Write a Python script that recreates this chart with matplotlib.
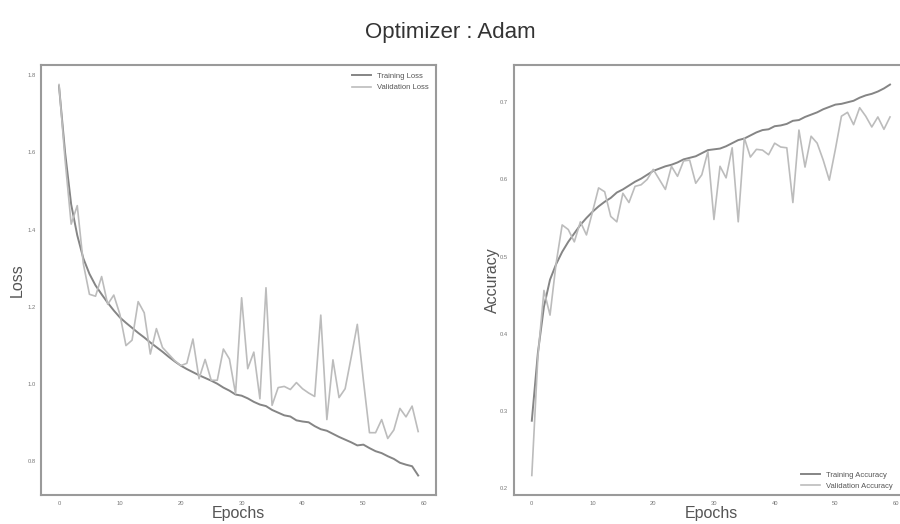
import matplotlib
matplotlib.use("Agg")
import matplotlib.pyplot as plt
import numpy as np

plt.rcParams['font.family'] = ['Liberation Sans', 'DejaVu Sans']

epochs = np.arange(60)

train_loss = [1.772, 1.600, 1.465, 1.385, 1.325, 1.285, 1.255, 1.232, 1.210, 1.190,
              1.172, 1.158, 1.145, 1.132, 1.120, 1.107, 1.095, 1.083, 1.070, 1.058,
              1.047, 1.038, 1.030, 1.022, 1.015, 1.008, 1.000, 0.990, 0.982, 0.972,
              0.969, 0.962, 0.953, 0.946, 0.942, 0.932, 0.925, 0.918, 0.915, 0.905,
              0.902, 0.900, 0.890, 0.882, 0.878, 0.870, 0.862, 0.855, 0.848, 0.840,
              0.842, 0.833, 0.825, 0.820, 0.812, 0.805, 0.795, 0.790, 0.786, 0.762]
val_loss = [1.776, 1.580, 1.414, 1.462, 1.311, 1.232, 1.227, 1.278, 1.206, 1.230,
            1.180, 1.099, 1.113, 1.213, 1.184, 1.077, 1.143, 1.094, 1.077, 1.060,
            1.047, 1.053, 1.116, 1.013, 1.063, 1.009, 1.009, 1.090, 1.064, 0.974,
            1.223, 1.039, 1.082, 0.961, 1.249, 0.944, 0.990, 0.993, 0.985, 1.003,
            0.987, 0.976, 0.967, 1.178, 0.907, 1.062, 0.964, 0.987, 1.069, 1.154,
            1.009, 0.873, 0.873, 0.907, 0.858, 0.880, 0.936, 0.914, 0.942, 0.876]

train_acc = [0.287, 0.375, 0.435, 0.470, 0.490, 0.506, 0.519, 0.530, 0.541, 0.550,
             0.558, 0.565, 0.571, 0.576, 0.583, 0.587, 0.592, 0.597, 0.601, 0.606,
             0.611, 0.614, 0.617, 0.619, 0.622, 0.626, 0.628, 0.630, 0.634, 0.638,
             0.639, 0.640, 0.643, 0.647, 0.651, 0.653, 0.657, 0.661, 0.664, 0.665,
             0.669, 0.670, 0.672, 0.676, 0.677, 0.681, 0.684, 0.687, 0.691, 0.694,
             0.697, 0.698, 0.700, 0.702, 0.706, 0.709, 0.711, 0.714, 0.718, 0.723]
val_acc = [0.216, 0.370, 0.456, 0.424, 0.491, 0.541, 0.535, 0.519, 0.545, 0.528,
           0.558, 0.589, 0.584, 0.552, 0.545, 0.582, 0.570, 0.591, 0.593, 0.600,
           0.613, 0.600, 0.587, 0.617, 0.604, 0.624, 0.625, 0.595, 0.606, 0.636,
           0.548, 0.617, 0.602, 0.641, 0.545, 0.654, 0.629, 0.639, 0.638, 0.632,
           0.647, 0.642, 0.641, 0.570, 0.664, 0.616, 0.656, 0.647, 0.625, 0.599,
           0.639, 0.682, 0.687, 0.671, 0.693, 0.682, 0.668, 0.681, 0.665, 0.681]

train_col = '#858585'
val_col = '#bcbcbc'
frame_col = '#9a9a9a'
text_col = '#555555'

fig = plt.figure(figsize=(9, 5.24), dpi=100)
fig.suptitle('Optimizer : Adam', fontsize=16, color='#333333', y=0.958)

ax1 = fig.add_axes([0.0456, 0.0553, 0.439, 0.8206])
ax2 = fig.add_axes([0.571, 0.0553, 0.4378, 0.8206])

ax1.plot(epochs, train_loss, color=train_col, lw=1.4, label='Training Loss')
ax1.plot(epochs, val_loss, color=val_col, lw=1.2, label='Validation Loss')
ax1.set_ylabel('Loss', fontsize=11.5, color=text_col, labelpad=1.5)
ax1.legend(loc='upper right', frameon=False, fontsize=5.5, labelcolor=text_col,
           handlelength=2.5, borderaxespad=0.6, labelspacing=0.5)

ax2.plot(epochs, train_acc, color=train_col, lw=1.4, label='Training Accuracy')
ax2.plot(epochs, val_acc, color=val_col, lw=1.2, label='Validation Accuracy')
ax2.set_ylabel('Accuracy', fontsize=11.5, color=text_col, labelpad=0.5)
ax2.legend(loc='lower right', frameon=False, fontsize=5.5, labelcolor=text_col,
           handlelength=2.5, borderaxespad=0.3, labelspacing=0.5,
           bbox_to_anchor=(0.975, 0.0))
ax2.set_yticks([0.2, 0.3, 0.4, 0.5, 0.6, 0.7])

for ax in (ax1, ax2):
    ax.set_xlabel('Epochs', fontsize=11.5, color=text_col, labelpad=0)
    ax.set_xticks([0, 10, 20, 30, 40, 50, 60])
    ax.tick_params(length=0, labelsize=4.2, colors='#777777', pad=4)
    for s in ax.spines.values():
        s.set_color(frame_col)
        s.set_linewidth(1.5)

ax1.set_yticks([0.8, 1.0, 1.2, 1.4, 1.6, 1.8])

fig.savefig('out.png', dpi=100)
